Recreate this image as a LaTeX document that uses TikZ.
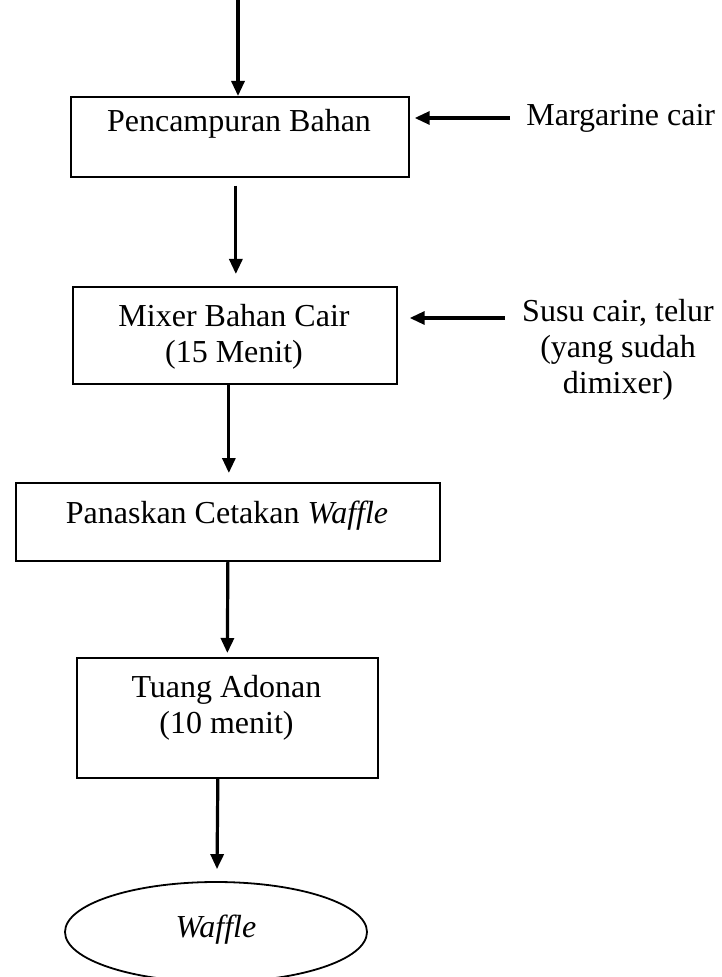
\documentclass[tikz,border=0pt]{standalone}
\usepackage{fontspec}
\setmainfont{Liberation Serif}
\usepackage{tikz}
\usetikzlibrary{arrows.meta,positioning,calc,shapes.geometric}

\begin{document}
\begin{tikzpicture}[x=0.5pt,y=-0.5pt,
  every node/.style={font=\fontsize{16}{18}\selectfont, inner sep=0pt},
  kotak/.style={draw, line width=0.85pt, anchor=north west},
  panah/.style={line width=1.6pt, -{Triangle[width=6.5pt,length=7.5pt]}},
  teks/.style={align=center, anchor=base}]
  \useasboundingbox (0,0) rectangle (721,977); % 図全体の範囲
  \node[kotak, minimum width=169pt, minimum height=40pt] (b1) at (70,96) {}; % 一つ目の箱（材料の混合）
  \node[kotak, minimum width=162pt, minimum height=48.5pt] (b2) at (72,286) {}; % 二つ目の箱（液体材料のミキサー）
  \node[kotak, minimum width=212pt, minimum height=39pt] (b3) at (15,482) {}; % 三つ目の箱（型を温める）
  \node[kotak, minimum width=150.5pt, minimum height=60pt] (b4) at (76,657) {}; % 四つ目の箱（生地を流し込む）
  \node[ellipse, draw, line width=0.9pt, minimum width=151pt, minimum height=50pt] (hasil) at (216,932) {}; % 最後の楕円（できあがり）
  \node[teks] (t1) at (239,132) {Pencampuran Bahan}; % 一つ目の箱の文字
  \node[teks] (t2) at (234,363) {Mixer Bahan Cair\\(15 Menit)}; % 二つ目の箱の文字（最後の行の基線）
  \node[teks] (t3) at (227,523) {Panaskan Cetakan \textit{Waffle}}; % 三つ目の箱の文字
  \node[teks] (t4) at (226.5,733) {Tuang Adonan\\(10 menit)}; % 四つ目の箱の文字（最後の行の基線）
  \node[teks] (t5) at (216,937) {\textit{Waffle}}; % 楕円の中の文字
  \node[anchor=base west] (m) at (526,126) {Margarine cair}; % 右から加える材料その1
  \node[teks] (s) at (618,394) {Susu cair, telur\\(yang sudah\\dimixer)}; % 右から加える材料その2
  \coordinate (awal) at (238,0); % 上から入る矢印の始点
  \coordinate (m-ujung) at (510,118); % 右の矢印その1の始点
  \coordinate (s-ujung) at (505,318); % 右の矢印その2の始点
  \draw[panah] (awal) -- (b1.north -| awal); % 上から一つ目の箱へ
  \draw[panah] ([xshift=-2pt,yshift=-4pt]b1.south) -- ([xshift=0.5pt,yshift=6pt]b2.north); % 一つ目から二つ目へ
  \draw[panah] ([xshift=-3pt]b2.south) -- ([xshift=0.5pt,yshift=4.5pt]b3.north); % 二つ目から三つ目へ
  \draw[panah] (b3.south) -- ([yshift=2pt]b4.north); % 三つ目から四つ目へ
  \draw[panah] ([xshift=-4.75pt]b4.south) -- ([xshift=0.5pt,yshift=6pt]hasil.north); % 四つ目から楕円へ
  \draw[panah, shorten >=2.5pt] (m-ujung) -- (b1.east |- m-ujung); % マーガリンを一つ目の箱へ
  \draw[panah, shorten >=6pt] (s-ujung) -- (b2.east |- s-ujung); % 牛乳と卵を二つ目の箱へ
\end{tikzpicture}
\end{document}
